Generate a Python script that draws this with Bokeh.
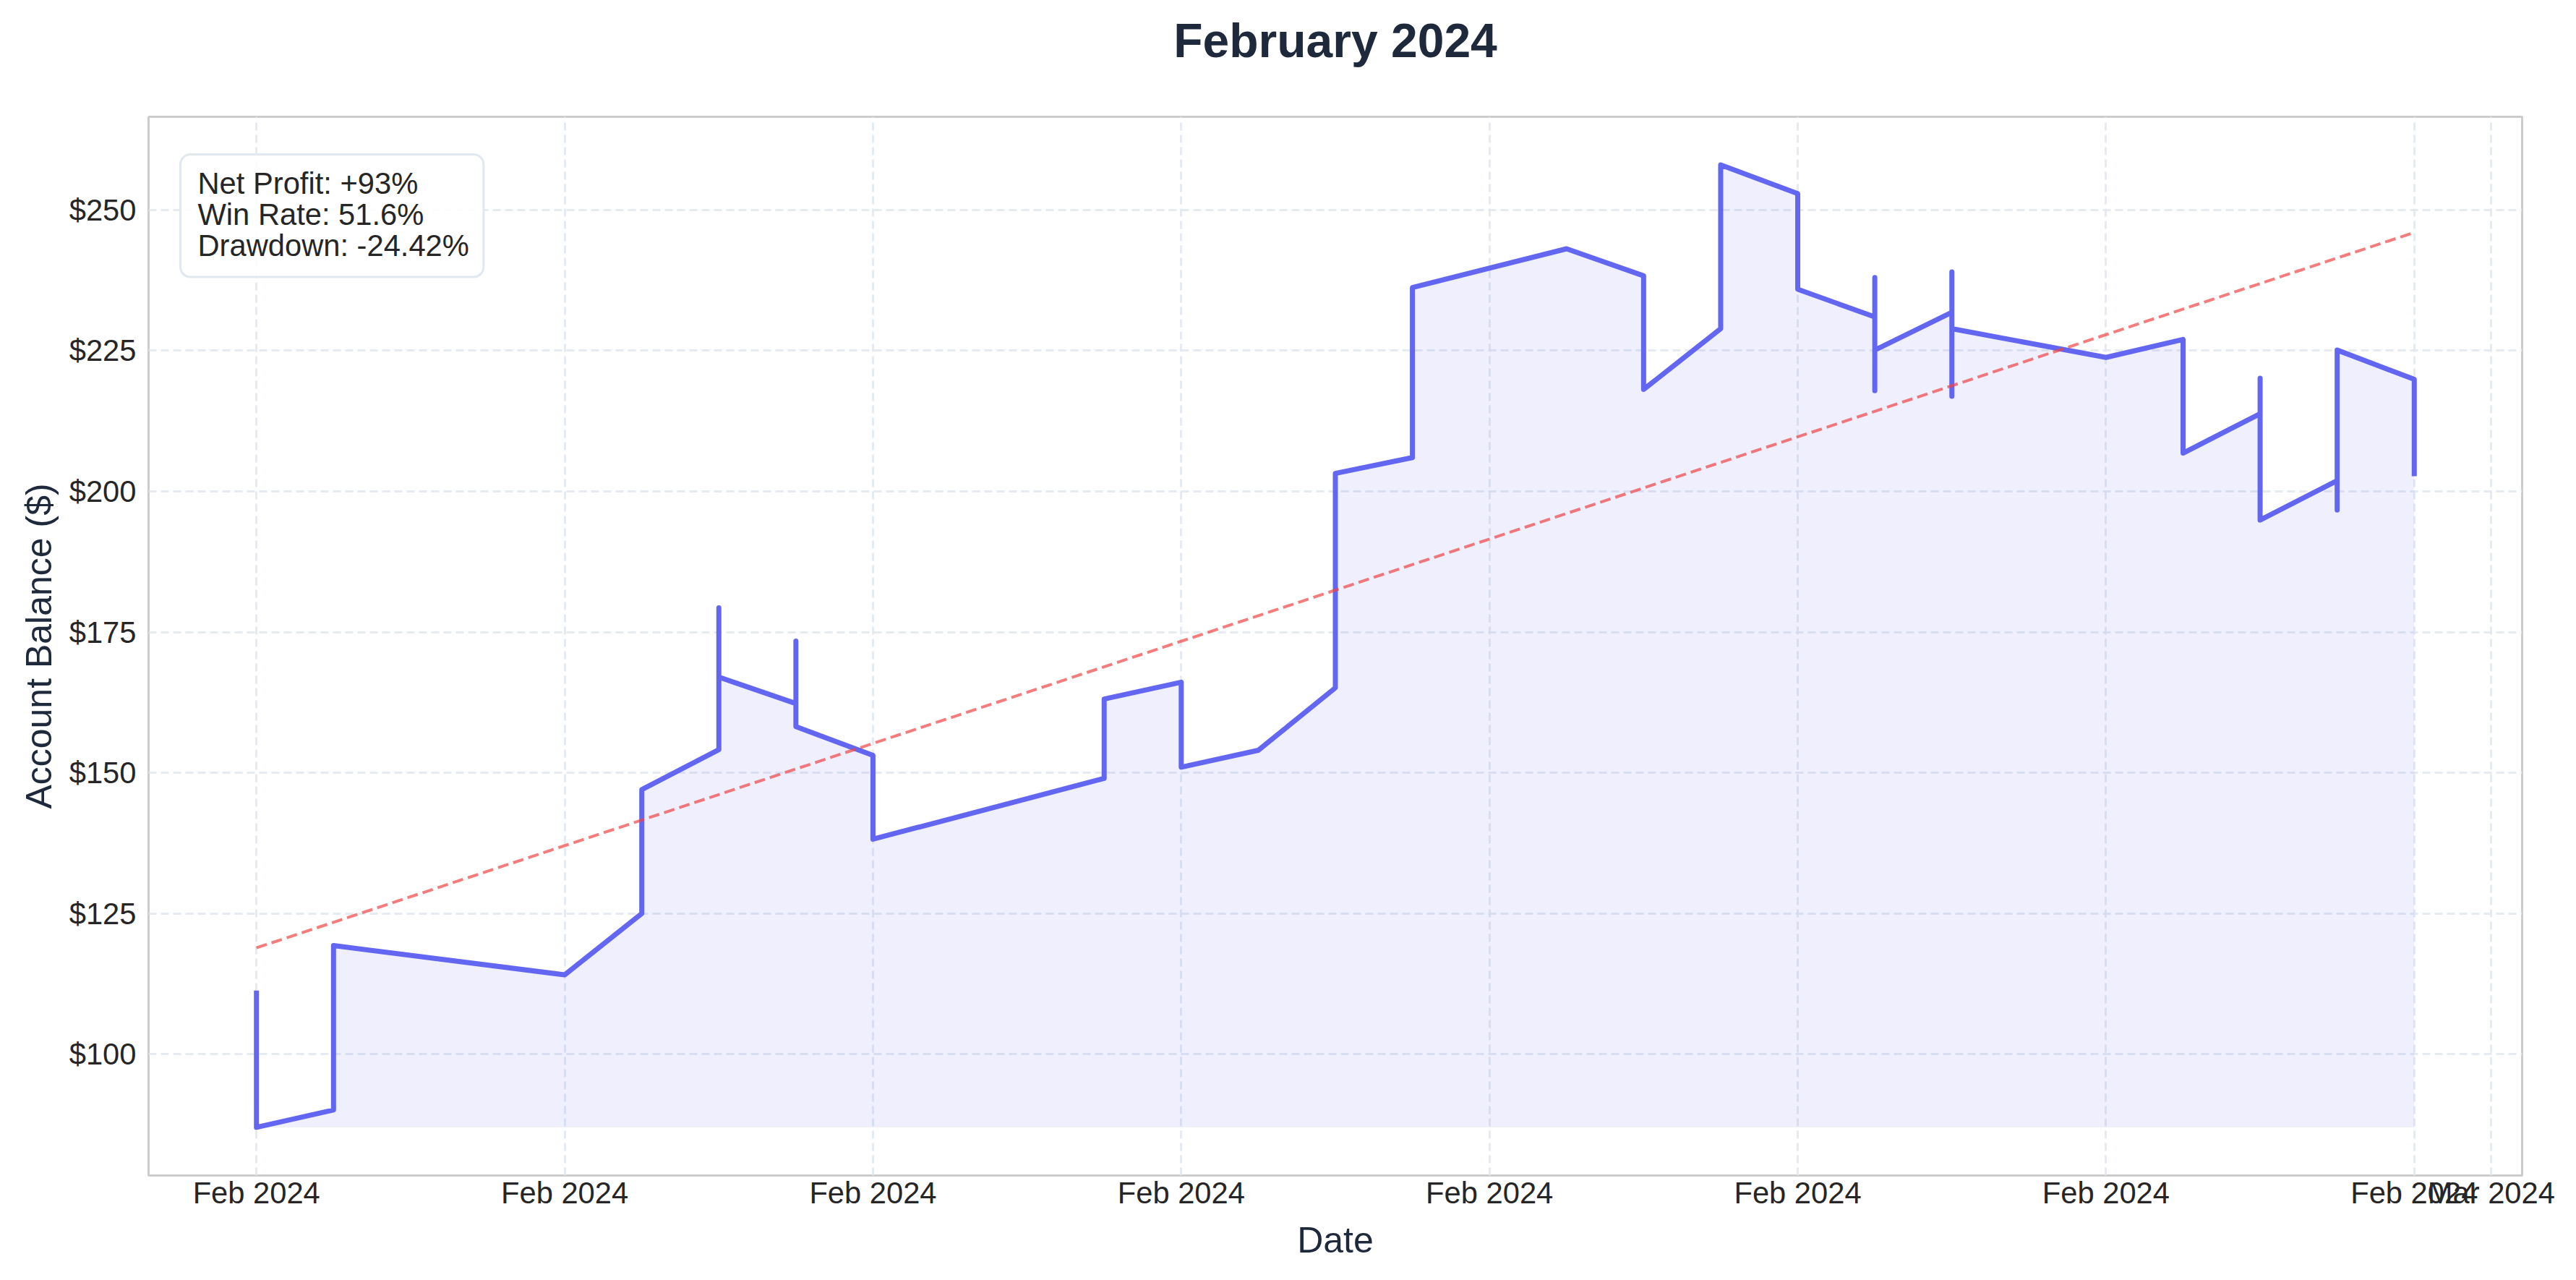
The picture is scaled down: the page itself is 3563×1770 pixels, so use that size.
import pandas as pd
from bokeh.plotting import figure
from bokeh.models import (FixedTicker, DatetimeTickFormatter, NumeralTickFormatter,
                          Label, Range1d, Title)
from bokeh.embed import file_html
from bokeh.resources import INLINE

# ---------------- data ----------------
trade_dates = [
    "2024-02-01", "2024-02-01",
    "2024-02-02", "2024-02-02",
    "2024-02-05",
    "2024-02-06", "2024-02-06",
    "2024-02-07", "2024-02-07", "2024-02-07",
    "2024-02-08", "2024-02-08", "2024-02-08",
    "2024-02-09", "2024-02-09",
    "2024-02-12", "2024-02-12",
    "2024-02-13", "2024-02-13",
    "2024-02-14",
    "2024-02-15", "2024-02-15",
    "2024-02-16", "2024-02-16",
    "2024-02-18",
    "2024-02-19", "2024-02-19",
    "2024-02-20", "2024-02-20",
    "2024-02-21", "2024-02-21",
    "2024-02-22", "2024-02-22", "2024-02-22", "2024-02-22",
    "2024-02-23", "2024-02-23", "2024-02-23", "2024-02-23",
    "2024-02-25",
    "2024-02-26", "2024-02-26",
    "2024-02-27", "2024-02-27", "2024-02-27",
    "2024-02-28", "2024-02-28", "2024-02-28",
    "2024-02-29", "2024-02-29",
]
balances = [
    111.3, 87.0,
    90.1, 119.3,
    114.1,
    125.0, 147.0,
    154.1, 179.3, 167.0,
    162.3, 173.4, 158.2,
    153.1, 138.2,
    149.0, 163.1,
    166.1, 151.0,
    154.0,
    165.1, 203.2,
    206.0, 236.2,
    243.1,
    238.3, 218.1,
    228.9, 258.0,
    252.9, 235.9,
    231.0, 238.0, 217.9, 225.1,
    231.8, 239.0, 216.9, 228.9,
    223.8,
    227.0, 206.8,
    213.8, 220.1, 194.9,
    201.9, 196.7, 225.1,
    219.9, 202.7,
]
trend_start = 118.9
trend_end = 246.0

tick_dates = ["2024-02-01", "2024-02-05", "2024-02-09", "2024-02-13", "2024-02-17",
              "2024-02-21", "2024-02-25", "2024-02-29", "2024-03-01"]
y_ticks = [100, 125, 150, 175, 200, 225, 250]

title_text = "February 2024"
x_label = "Date"
y_label = "Account Balance ($)"
stats_lines = ["Net Profit: +93%", "Win Rate: 51.6%", "Drawdown: -24.42%"]

# ---------------- derived ----------------
x = pd.to_datetime(trade_dates)
bmin, bmax = min(balances), max(balances)
ypad = 0.05 * (bmax - bmin)
xspan = x.max() - x.min()
xpad = xspan * 0.05

FONT = "Liberation Sans"
W, H = 3547, 1754
ML, MR, MT, MB = 205, 59, 161, 129
FW, FH = W - ML - MR, H - MT - MB

p = figure(width=W, height=H, x_axis_type="datetime",
           x_range=Range1d(x.min() - xpad, x.max() + xpad),
           y_range=Range1d(bmin - ypad, bmax + ypad),
           output_backend="svg", toolbar_location=None,
           min_border_left=ML, min_border_right=MR,
           min_border_top=MT, min_border_bottom=MB)

p.background_fill_color = "white"
p.border_fill_color = "white"
p.outline_line_color = "#cccccc"
p.outline_line_width = 3

# title: an invisible spacer title next to the frame, the real title above it
p.title.text = ""
spacer = Title(text=" ", text_font=FONT, text_font_size="10px", standoff=56)
main_title = Title(text=title_text, align="center", text_font=FONT,
                   text_font_size="66px", text_font_style="bold",
                   text_color="#1e293b", standoff=0)
p.add_layout(spacer, "above")
p.add_layout(main_title, "above")

# grids
for g in (p.xgrid, p.ygrid):
    g.grid_line_color = "#e2e8f0"
    g.grid_line_alpha = 0.85
    g.grid_line_width = 3
    g.grid_line_dash = "11 6"

# axes
tick_ms = [pd.Timestamp(d).value // 10**6 for d in tick_dates]
p.xaxis.ticker = FixedTicker(ticks=tick_ms)
fmt = "%b %Y"
p.xaxis.formatter = DatetimeTickFormatter(
    microseconds=fmt, milliseconds=fmt, seconds=fmt, minsec=fmt, minutes=fmt,
    hourmin=fmt, hours=fmt, days=fmt, months=fmt, years=fmt)
p.yaxis.ticker = FixedTicker(ticks=y_ticks)
p.yaxis.formatter = NumeralTickFormatter(format="$0")

for ax in (p.xaxis[0], p.yaxis[0]):
    ax.axis_line_color = None
    ax.major_tick_line_color = None
    ax.minor_tick_line_color = None
    ax.major_tick_out = 0
    ax.major_tick_in = 0
    ax.major_label_text_font = FONT
    ax.major_label_text_font_size = "41.7px"
    ax.major_label_text_color = "#262626"
    ax.axis_label_text_font = FONT
    ax.axis_label_text_font_size = "50px"
    ax.axis_label_text_font_style = "normal"
    ax.axis_label_text_color = "#1e293b"

p.xaxis.axis_label = x_label
p.yaxis.axis_label = y_label
p.xaxis.major_label_standoff = 0
p.yaxis.major_label_standoff = 17
p.xaxis.axis_label_standoff = 11
p.yaxis.axis_label_standoff = 11

# fill under curve
p.varea(x=x, y1=[bmin] * len(balances), y2=balances,
        fill_color="#6366f1", fill_alpha=0.1)

# balance line
p.line(x=x, y=balances, line_color="#6366f1", line_width=7, line_join="round")

# trend line
p.line(x=[x.min(), x.max()], y=[trend_start, trend_end],
       line_color="#ef4444", line_alpha=0.7, line_width=4, line_dash="15 7")

# stats box  (padding order: left, right, top, bottom)
stats = Label(x=44, y=FH - 52, x_units="screen", y_units="screen",
              text="\n".join(stats_lines), anchor="top_left",
              text_font=FONT, text_font_size="41.7px", text_color="#262626",
              text_line_height=0.92,
              padding=(24, 20, 16, 20), border_radius=14,
              background_fill_color="white", background_fill_alpha=0.9,
              border_line_color="#e2e8f0", border_line_width=3)
p.add_layout(stats)

open("out.html", "w").write(file_html(p, INLINE))
